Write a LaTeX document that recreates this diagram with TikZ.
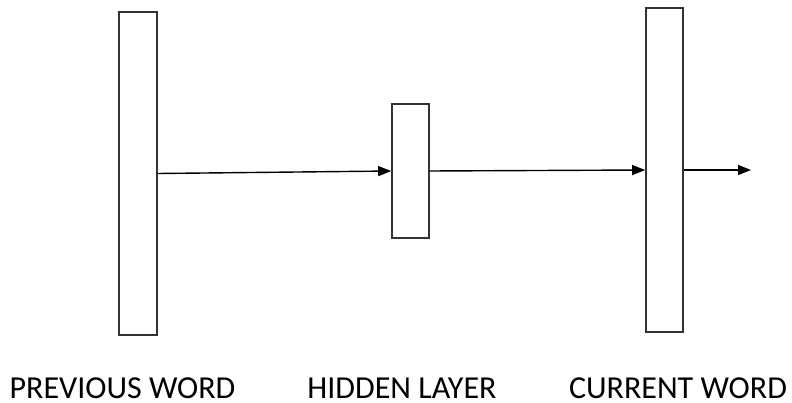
\documentclass[tikz,border=0pt]{standalone}
\usepackage{fontspec}
\setmainfont{Carlito}
\usetikzlibrary{arrows.meta}
\begin{document}
\begin{tikzpicture}[x=1pt,y=-1pt,
  layerbox/.style={draw=black!80,line width=1.6pt,fill=white,inner sep=0pt,minimum width=38pt},
  conn/.style={line width=1.4pt,-{Triangle[length=13pt,width=10pt]}},
  lbl/.style={anchor=base,inner sep=0pt,font=\fontsize{32}{36}\selectfont}]
\useasboundingbox (0,0) rectangle (792,403);
\node[layerbox,minimum height=323pt] (L) at (138,173.5) {};
\node[layerbox,minimum height=134pt,minimum width=37pt] (M) at (410.5,171) {};
\node[layerbox,minimum height=324pt,minimum width=37pt] (R) at (664.5,170) {};
\coordinate (out) at (751,170);
\draw[conn] (L.east) -- (M.west);
\draw[conn] (M.east) -- (R.west);
\draw[conn] (R.east) -- (out);
\node[lbl] (t1) at (122.5,398) {PREVIOUS WORD};
\node[lbl] (t2) at (402,398) {HIDDEN LAYER};
\node[lbl] (t3) at (678,398) {CURRENT WORD};
\end{tikzpicture}
\end{document}
